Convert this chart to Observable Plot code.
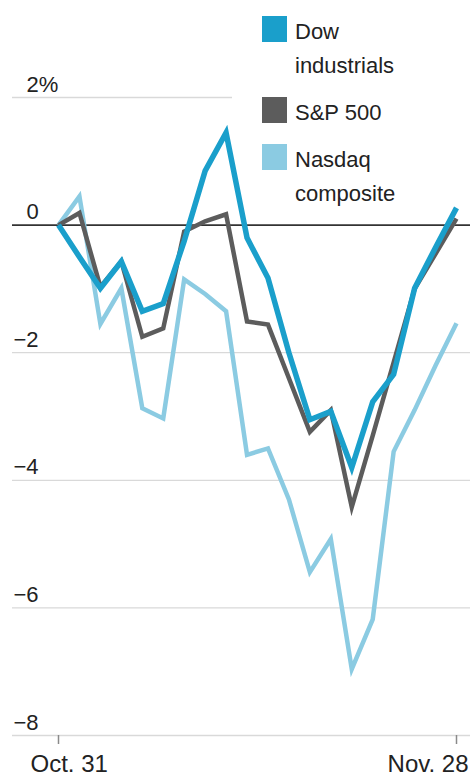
<!DOCTYPE html>
<html>
<head>
<meta charset="utf-8">
<script src="https://cdn.jsdelivr.net/npm/d3@7"></script>
<script src="https://cdn.jsdelivr.net/npm/@observablehq/plot@0.6"></script>
<style>
  html, body { margin: 0; padding: 0; background: #fff; }
  body { width: 472px; height: 777px; position: relative; overflow: hidden;
         font-family: "Liberation Sans", Arial, sans-serif; color: #222; }
  #chart svg { display: block; }
  .legend { position: absolute; left: 232px; top: 0; right: 0; padding: 16px 0 0 30px;
            background: linear-gradient(#fff, #fff) top left / 100% 132px no-repeat; }
  .item { display: flex; align-items: flex-start; margin-bottom: 14px; }
  .swatch { width: 25px; height: 26px; flex: none; margin-right: 8px; margin-top: 0; }
  .label { font-size: 22px; line-height: 34px; margin-top: -1px; color: #222; }
</style>
</head>
<body>
<div id="chart"></div>
<div class="legend" id="legend"></div>
<script>
// Trading days, Oct. 31 through Nov. 28
const dates = ["Oct. 31", "Nov. 1", "Nov. 2", "Nov. 5", "Nov. 6", "Nov. 7", "Nov. 8", "Nov. 9",
  "Nov. 12", "Nov. 13", "Nov. 14", "Nov. 15", "Nov. 16", "Nov. 19", "Nov. 20", "Nov. 21",
  "Nov. 23", "Nov. 26", "Nov. 27", "Nov. 28"];

// Cumulative percentage change since Oct. 31
const dow    = [0, -0.5, -0.99, -0.57, -1.35, -1.23, -0.25, 0.85, 1.45, -0.2, -0.83, -2.0, -3.05, -2.92, -3.8, -2.77, -2.34, -0.99, -0.35, 0.27];
const sp500  = [0, 0.19, -0.97, -0.57, -1.75, -1.62, -0.1, 0.06, 0.17, -1.51, -1.56, -2.4, -3.24, -2.9, -4.42, -3.3, -2.15, -1.0, -0.45, 0.1];
const nasdaq = [0, 0.45, -1.55, -0.99, -2.87, -3.03, -0.85, -1.08, -1.35, -3.6, -3.5, -4.3, -5.44, -4.92, -6.96, -6.18, -3.55, -2.9, -2.2, -1.54];

const seriesNames  = ["Dow industrials", "S&P 500", "Nasdaq composite"];
const legendLines  = [["Dow", "industrials"], ["S&P 500"], ["Nasdaq", "composite"]];
const seriesColors = ["#1a9fcb", "#5c5c5c", "#8bcbe2"];

const yTickValues = [2, 0, -2, -4, -6, -8];
const yTickLabels = ["2%", "0", "−2", "−4", "−6", "−8"];
const xTickLabels = ["Oct. 31", "Nov. 28"];

// Trading days are evenly spaced, so x is the day's position in the list
const seriesValues = [dow, sp500, nasdaq];
const rows = seriesNames.flatMap((name, s) =>
  dates.map((date, i) => ({ name, date, day: i, value: seriesValues[s][i] })));
const yTicks = yTickValues.map((v, i) => ({ v, label: yTickLabels[i] }));
const xTicks = xTickLabels.map(label => ({ day: dates.indexOf(label), label }));

const lineOf = (name, width) => Plot.line(rows.filter(d => d.name === name), {
  x: "day", y: "value",
  stroke: seriesColors[seriesNames.indexOf(name)],
  strokeWidth: width, strokeLinejoin: "miter", strokeMiterlimit: 6, strokeLinecap: "butt"
});

const chart = Plot.plot({
  width: 472,
  height: 777,
  marginTop: 97,
  marginBottom: 42,
  marginLeft: 12,
  marginRight: 2,
  style: { fontFamily: '"Liberation Sans", Arial, sans-serif', background: "transparent" },
  x: { domain: [0, dates.length - 1], range: [58, 456], axis: null },
  y: { domain: [-8, 2], axis: null },
  marks: [
    Plot.gridY({ ticks: yTickValues.filter(v => v !== 0), stroke: "#d9d9d9", strokeOpacity: 1, strokeWidth: 1.3 }),
    Plot.axisX({ ticks: xTicks.map(d => d.day), tickSize: 9, tickFormat: () => "", stroke: "#8a8a8a", strokeWidth: 1.5, label: null }),
    Plot.text(yTicks.filter(d => d.v >= 0), {
      y: "v", text: "label", frameAnchor: "left", dx: 14, dy: -6,
      textAnchor: "start", lineAnchor: "bottom", fontSize: 22, fill: "#222"
    }),
    Plot.text(yTicks.filter(d => d.v < 0), {
      y: "v", text: "label", frameAnchor: "left", dx: 1, dy: -6,
      textAnchor: "start", lineAnchor: "bottom", fontSize: 22, fill: "#222"
    }),
    Plot.text([xTicks[0]], {
      x: "day", y: () => -8, text: "label", dx: -28, dy: 36,
      textAnchor: "start", lineAnchor: "bottom", fontSize: 24, fill: "#222"
    }),
    Plot.text([xTicks[1]], {
      x: "day", y: () => -8, text: "label", dx: 12, dy: 36,
      textAnchor: "end", lineAnchor: "bottom", fontSize: 24, fill: "#222"
    }),
    Plot.ruleY([0], { stroke: "#333", strokeWidth: 1.6 }),
    lineOf("Nasdaq composite", 4.5),
    lineOf("S&P 500", 4.5),
    lineOf("Dow industrials", 5.5)
  ]
});
document.getElementById("chart").append(chart);

// Legend: colour swatch plus the series name on one or two lines
const legend = document.getElementById("legend");
seriesNames.forEach((name, i) => {
  const item = document.createElement("div");
  item.className = "item";
  const sw = document.createElement("div");
  sw.className = "swatch";
  sw.style.background = seriesColors[i];
  const lab = document.createElement("div");
  lab.className = "label";
  lab.innerHTML = legendLines[i].map(t => t.replace(/&/g, "&amp;")).join("<br>");
  item.append(sw, lab);
  legend.append(item);
});
</script>
</body>
</html>
